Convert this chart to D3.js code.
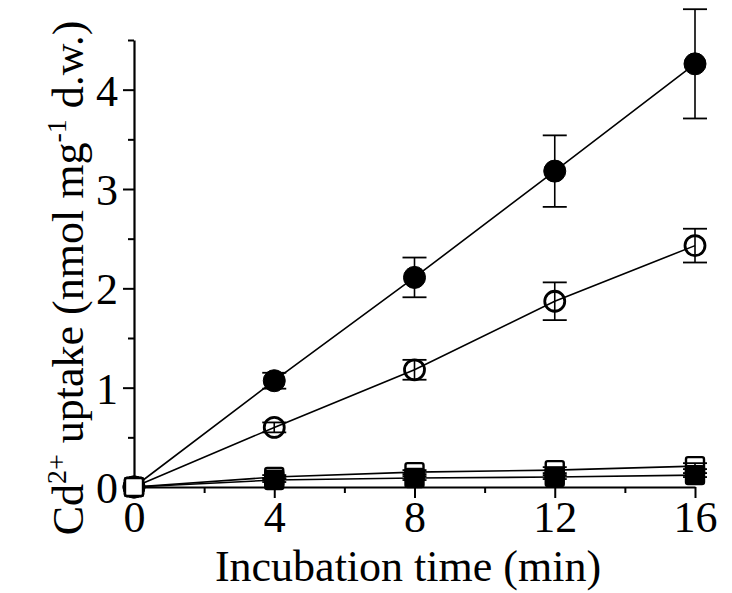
<!DOCTYPE html>
<html>
<head>
<meta charset="utf-8">
<script src="https://cdn.jsdelivr.net/npm/d3@7"></script>
<style>
  body { margin: 0; background: #fff; }
  text { font-family: "Liberation Serif", "Times New Roman", serif; fill: #000; }
</style>
</head>
<body>
<div id="chart"></div>
<script>
// Cd2+ uptake over incubation time
const times = [0, 4, 8, 12, 16];
const filledCircle = [0, 1.07, 2.11, 3.18, 4.26];
const filledCircleErr = [0, 0.08, 0.2, 0.36, 0.55];
const openCircle = [0, 0.6, 1.18, 1.87, 2.43];
const openCircleErr = [0, 0.05, 0.1, 0.19, 0.17];
const openSquare = [0, 0.1, 0.15, 0.17, 0.21];
const openSquareErr = [0, 0.02, 0.02, 0.03, 0.03];
const filledSquare = [0, 0.07, 0.09, 0.1, 0.12];
const filledSquareErr = [0, 0.02, 0.02, 0.02, 0.02];
const xTicks = [0, 4, 8, 12, 16];
const yTicks = [0, 1, 2, 3, 4];

const width = 732, height = 593;
const margin = { top: 40, right: 37, bottom: 106, left: 134 };

const svg = d3.select("#chart")
  .append("svg")
  .attr("width", width)
  .attr("height", height);

const g = svg.append("g")
  .attr("transform", `translate(${margin.left},${margin.top})`);

const plotW = width - margin.left - margin.right;
const plotH = height - margin.top - margin.bottom;

const x = d3.scaleLinear().domain([0, 16]).range([0, plotW]);
const y = d3.scaleLinear().domain([0, 4.5]).range([plotH, 0]);

// axes
const xAxis = g.append("g")
  .attr("transform", `translate(0,${plotH})`)
  .call(d3.axisBottom(x).tickValues(xTicks).tickSize(11).tickPadding(3).tickSizeOuter(0).tickFormat(d3.format("d")));
g.append("g")
  .attr("transform", `translate(0,${plotH})`)
  .call(d3.axisBottom(x).tickValues([2, 6, 10, 14]).tickSize(6).tickFormat("").tickSizeOuter(0))
  .select(".domain").remove();

const yAxis = g.append("g")
  .call(d3.axisLeft(y).tickValues(yTicks).tickSize(11).tickPadding(5).tickSizeOuter(0).tickFormat(d3.format("d")));
g.append("g")
  .call(d3.axisLeft(y).tickValues([0.5, 1.5, 2.5, 3.5, 4.5]).tickSize(6).tickFormat("").tickSizeOuter(0))
  .select(".domain").remove();

g.selectAll(".domain").attr("stroke-width", 2.2);
g.selectAll(".tick line").attr("stroke-width", 2);
xAxis.selectAll("text").attr("font-size", 44).attr("font-family", "Liberation Serif");
yAxis.selectAll("text").attr("font-size", 44).attr("font-family", "Liberation Serif").attr("dy", "0.35em");

// axis titles
svg.append("text")
  .attr("x", 408)
  .attr("y", 581)
  .attr("text-anchor", "middle")
  .attr("font-size", 44)
  .text("Incubation time (min)");

const yTitle = svg.append("text")
  .attr("transform", `translate(83,278) rotate(-90)`)
  .attr("text-anchor", "middle")
  .attr("font-size", 44);
yTitle.append("tspan").text("Cd");
yTitle.append("tspan").attr("font-size", 28).attr("dy", -17).text("2+");
yTitle.append("tspan").attr("dy", 17).text(" uptake (nmol mg");
yTitle.append("tspan").attr("font-size", 28).attr("dy", -17).text("-1");
yTitle.append("tspan").attr("dy", 17).text(" d.w.)");

// series
const series = [
  { name: "filledSquare", values: filledSquare, err: filledSquareErr, shape: "square", fill: "#000" },
  { name: "openSquare", values: openSquare, err: openSquareErr, shape: "square", fill: "#fff" },
  { name: "openCircle", values: openCircle, err: openCircleErr, shape: "circle", fill: "#fff" },
  { name: "filledCircle", values: filledCircle, err: filledCircleErr, shape: "circle", fill: "#000" },
];

const line = d3.line()
  .x(d => x(d.t))
  .y(d => y(d.v));

series.forEach(s => {
  const pts = times.map((t, i) => ({ t, v: s.values[i], e: s.err[i] }));
  g.append("path")
    .datum(pts)
    .attr("fill", "none")
    .attr("stroke", "#000")
    .attr("stroke-width", 1.6)
    .attr("d", line);
});

series.forEach(s => {
  const pts = times.map((t, i) => ({ t, v: s.values[i], e: s.err[i] }));
  const grp = g.append("g").attr("class", s.name);
  const eb = grp.selectAll("g.err")
    .data(pts.filter(d => d.e > 0))
    .join("g")
    .attr("class", "err");
  eb.append("line")
    .attr("x1", d => x(d.t)).attr("x2", d => x(d.t))
    .attr("y1", d => y(d.v + d.e)).attr("y2", d => y(d.v - d.e))
    .attr("stroke", "#000").attr("stroke-width", 1.6);
  eb.append("line")
    .attr("x1", d => x(d.t) - 12).attr("x2", d => x(d.t) + 12)
    .attr("y1", d => y(d.v + d.e)).attr("y2", d => y(d.v + d.e))
    .attr("stroke", "#000").attr("stroke-width", 1.8);
  eb.append("line")
    .attr("x1", d => x(d.t) - 12).attr("x2", d => x(d.t) + 12)
    .attr("y1", d => y(d.v - d.e)).attr("y2", d => y(d.v - d.e))
    .attr("stroke", "#000").attr("stroke-width", 1.8);

  if (s.shape === "circle") {
    grp.selectAll("circle")
      .data(pts)
      .join("circle")
      .attr("cx", d => x(d.t))
      .attr("cy", d => y(d.v))
      .attr("r", s.fill === "#000" ? 11 : 10)
      .attr("fill", s.fill === "#000" ? "#000" : "none")
      .attr("stroke", "#000")
      .attr("stroke-width", s.fill === "#000" ? 1 : 2.8);
  } else {
    grp.selectAll("rect")
      .data(pts)
      .join("rect")
      .attr("x", d => x(d.t) - 9)
      .attr("y", d => y(d.v) - 9)
      .attr("width", 18)
      .attr("height", 18)
      .attr("rx", 2)
      .attr("fill", s.name === "openSquare" ? "none" : "#000")
      .attr("stroke", "#000")
      .attr("stroke-width", 2.4);
  }
});

// open square at origin drawn on top
g.append("rect")
  .datum({ t: times[0], v: openSquare[0] })
  .attr("x", d => x(d.t) - 9)
  .attr("y", d => y(d.v) - 9)
  .attr("width", 18).attr("height", 18).attr("rx", 2)
  .attr("fill", "#fff").attr("stroke", "#000").attr("stroke-width", 2.4);
</script>
</body>
</html>
